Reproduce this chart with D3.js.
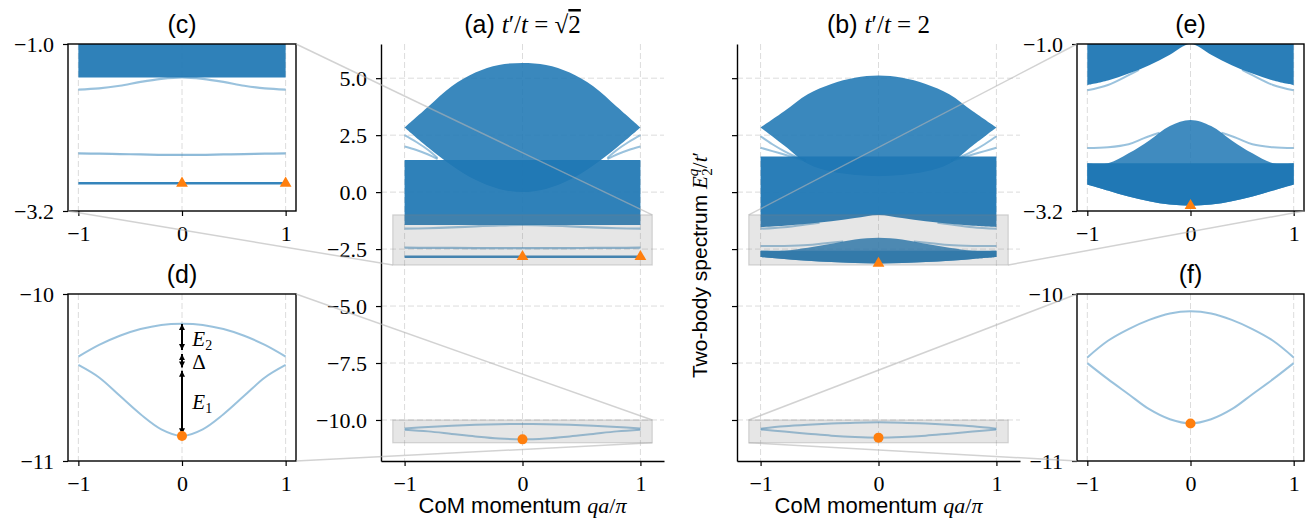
<!DOCTYPE html>
<html>
<head>
<meta charset="utf-8">
<script src="https://cdn.jsdelivr.net/npm/d3@7"></script>
<style>
  body { margin: 0; background: #fff; }
  svg { display: block; }
</style>
</head>
<body>
<script>
// ---------- data ----------
const qGrid = [-1, -0.8, -0.6, -0.4, -0.2, 0, 0.2, 0.4, 0.6, 0.8, 1];
const qTicks = [-1, 0, 1];
const mainTicks = [-10, -7.5, -5, -2.5, 0, 2.5, 5];

// (a) t'/t = sqrt(2)
const aDomeTop = [2.84, 3.75, 4.65, 5.25, 5.58, 5.67, 5.58, 5.25, 4.65, 3.75, 2.84];
const aDomeLow = [2.84, 1.96, 1.17, 0.54, 0.14, 0.00, 0.14, 0.54, 1.17, 1.96, 2.84];
const aBandTop = [1.41, 1.41, 1.41, 1.41, 1.41, 1.41, 1.41, 1.41, 1.41, 1.41, 1.41];
const aBandLow = [-1.44, -1.44, -1.44, -1.44, -1.44, -1.44, -1.44, -1.44, -1.44, -1.44, -1.44];
const aBound1 = [-1.60, -1.585, -1.55, -1.50, -1.46, -1.44, -1.46, -1.50, -1.55, -1.585, -1.60];
const aBound2 = [-2.44, -2.445, -2.45, -2.455, -2.46, -2.46, -2.46, -2.455, -2.45, -2.445, -2.44];
const aBound3 = [-2.835, -2.835, -2.835, -2.835, -2.835, -2.835, -2.835, -2.835, -2.835, -2.835, -2.835];
const aPairUp = [-10.375, -10.305, -10.25, -10.21, -10.185, -10.178, -10.185, -10.21, -10.25, -10.305, -10.375];
const aPairLow = [-10.425, -10.50, -10.61, -10.72, -10.81, -10.85, -10.81, -10.72, -10.61, -10.50, -10.425];
const aSideQL = [-1, -0.9, -0.8, -0.72];
const aSideQR = [1, 0.9, 0.8, 0.72];
const aSide1 = [2.50, 2.20, 1.85, 1.50];
const aSide2 = [2.00, 1.85, 1.65, 1.45];
const aTriQ = [0, 1], aTriE = [-2.835, -2.835];
const aDotQ = [0], aDotE = [-10.85];

// (b) t'/t = 2
const bDomeTop = [2.84, 3.55, 4.30, 4.75, 5.02, 5.12, 5.02, 4.75, 4.30, 3.55, 2.84];
const bDomeLow = [2.84, 2.05, 1.25, 0.90, 0.75, 0.70, 0.75, 0.90, 1.25, 2.05, 2.84];
const bBandTop = [1.56, 1.56, 1.56, 1.56, 1.56, 1.56, 1.56, 1.56, 1.56, 1.56, 1.56];
const bBandLow = [-1.54, -1.48, -1.39, -1.28, -1.14, -1.00, -1.14, -1.28, -1.39, -1.48, -1.54];
const bSideQL = [-1, -0.9, -0.8, -0.7, -0.62];
const bSideQR = [1, 0.9, 0.8, 0.7, 0.62];
const bSide1 = [2.45, 2.10, 1.80, 1.55, 1.40];
const bSide2 = [1.95, 1.80, 1.65, 1.50, 1.38];
const bEdgeQL = [-1, -0.8, -0.6, -0.5];
const bEdgeQR = [1, 0.8, 0.6, 0.5];
const bEdge = [-1.61, -1.54, -1.41, -1.34];
const bLowTop = [-2.57, -2.57, -2.44, -2.27, -2.08, -2.00, -2.08, -2.27, -2.44, -2.57, -2.57];
const bLowFlat = [-2.57, -2.57, -2.57, -2.57, -2.57, -2.57, -2.57, -2.57, -2.57, -2.57, -2.57];
const bLowBot = [-2.85, -2.93, -3.01, -3.07, -3.115, -3.13, -3.115, -3.07, -3.01, -2.93, -2.85];
const bMidQL = [-1, -0.8, -0.6, -0.45, -0.3];
const bMidQR = [1, 0.8, 0.6, 0.45, 0.3];
const bMid = [-2.37, -2.36, -2.32, -2.24, -2.17];
const bPairUp = [-10.38, -10.28, -10.21, -10.155, -10.117, -10.104, -10.117, -10.155, -10.21, -10.28, -10.38];
const bPairLow = [-10.414, -10.51, -10.60, -10.69, -10.75, -10.775, -10.75, -10.69, -10.60, -10.51, -10.414];
const bTriQ = [0], bTriE = [-3.13];
const bDotQ = [0], bDotE = [-10.775];

// (d) annotation arrows
const arrowTop = [-10.18, -10.36, -10.46];
const arrowBot = [-10.335, -10.44, -10.84];
const arrowLabel = ["E", "\u0394", "E"];
const arrowSub = ["2", "", "1"];
const arrowLabelE = [-10.27, -10.405, -10.645];

// ---------- drawing ----------
const width = 1307, height = 518;
const blue = "#1f77b4", orange = "#ff7f0e";
const serif = "'Liberation Serif', serif", sans = "'Liberation Sans', Arial, sans-serif";

const svg = d3.select("body").append("svg").attr("width", width).attr("height", height);
const defs = svg.append("defs");
defs.append("marker").attr("id", "arr").attr("viewBox", "0 0 10 10")
  .attr("refX", 10).attr("refY", 5).attr("markerWidth", 3).attr("markerHeight", 3)
  .attr("orient", "auto-start-reverse")
  .append("path").attr("d", "M0,0L10,5L0,10z").attr("fill", "#000");

function panel(id, xr, yr, xd, yd) {
  const x = d3.scaleLinear().domain(xd).range(xr);
  const y = d3.scaleLinear().domain(yd).range([yr[1], yr[0]]);
  const g = svg.append("g");
  defs.append("clipPath").attr("id", "clip-" + id).append("rect")
    .attr("x", xr[0]).attr("y", yr[0]).attr("width", xr[1] - xr[0]).attr("height", yr[1] - yr[0]);
  const grid = g.append("g");
  const plot = g.append("g").attr("clip-path", `url(#clip-${id})`);
  return { x, y, g, grid, plot, xr, yr };
}

function area(P, qs, lo, hi, op) {
  const data = qs.map((q, i) => ({ q, lo: lo[i], hi: hi[i] }));
  P.plot.append("path").datum(data)
    .attr("d", d3.area().x(d => P.x(d.q)).y0(d => P.y(d.lo)).y1(d => P.y(d.hi)).curve(d3.curveCatmullRom))
    .attr("fill", blue).attr("fill-opacity", op);
}

function curve(P, qs, es, op, w) {
  const data = qs.map((q, i) => ({ q, e: es[i] }));
  P.plot.append("path").datum(data)
    .attr("d", d3.line().x(d => P.x(d.q)).y(d => P.y(d.e)).curve(d3.curveCatmullRom))
    .attr("fill", "none").attr("stroke", blue).attr("stroke-opacity", op).attr("stroke-width", w);
}

function axes(P, yTicks, yFmt, yLabels, box) {
  P.grid.selectAll(".gx").data(qTicks).join("line")
    .attr("x1", d => P.x(d)).attr("x2", d => P.x(d)).attr("y1", P.yr[0]).attr("y2", P.yr[1])
    .attr("stroke", "#dcdcdc").attr("stroke-width", 1).attr("stroke-dasharray", "6,3");
  if (!box) {
    P.grid.selectAll(".gy").data(yTicks).join("line")
      .attr("x1", P.xr[0]).attr("x2", P.xr[1]).attr("y1", d => P.y(d)).attr("y2", d => P.y(d))
      .attr("stroke", "#dcdcdc").attr("stroke-width", 1).attr("stroke-dasharray", "6,3");
  }
  const xa = P.g.append("g").attr("transform", `translate(0,${P.yr[1]})`)
    .call(d3.axisBottom(P.x).tickValues(qTicks).tickFormat(d3.format("d"))
      .tickSize(5).tickPadding(9).tickSizeOuter(0));
  const ya = P.g.append("g").attr("transform", `translate(${P.xr[0]},0)`)
    .call(d3.axisLeft(P.y).tickValues(yTicks).tickFormat(yLabels ? d3.format(yFmt) : () => "")
      .tickSize(5).tickPadding(9).tickSizeOuter(0));
  [xa, ya].forEach(a => {
    a.selectAll("text").style("font-family", serif).style("font-size", "22px").attr("fill", "#000");
    a.selectAll(".tick line").attr("stroke", "#000").attr("stroke-width", 1.2);
    a.select(".domain").attr("stroke", "#000").attr("stroke-width", 1.4);
  });
  if (box) {
    xa.select(".domain").remove();
    ya.select(".domain").remove();
    P.g.append("rect").attr("x", P.xr[0]).attr("y", P.yr[0])
      .attr("width", P.xr[1] - P.xr[0]).attr("height", P.yr[1] - P.yr[0])
      .attr("fill", "none").attr("stroke", "#000").attr("stroke-width", 1.4);
  }
}

function markers(P, triQ, triE, dotQ, dotE) {
  P.g.selectAll(null).data(triQ.map((q, i) => [q, triE[i]])).join("path")
    .attr("d", d3.symbol(d3.symbolTriangle, 60)())
    .attr("transform", d => `translate(${P.x(d[0])},${P.y(d[1])})`).attr("fill", orange);
  P.g.selectAll(null).data(dotQ.map((q, i) => [q, dotE[i]])).join("circle")
    .attr("cx", d => P.x(d[0])).attr("cy", d => P.y(d[1])).attr("r", 5).attr("fill", orange);
}

function specA(P) {
  area(P, qGrid, aDomeLow, aDomeTop, 0.88);
  area(P, qGrid, aBandLow, aBandTop, 0.93);
  curve(P, aSideQL, aSide1, 0.45, 2); curve(P, aSideQR, aSide1, 0.45, 2);
  curve(P, aSideQL, aSide2, 0.45, 2); curve(P, aSideQR, aSide2, 0.45, 2);
  curve(P, qGrid, aBound1, 0.45, 2.2);
  curve(P, qGrid, aBound2, 0.5, 2.2);
  curve(P, qGrid, aBound3, 0.9, 2.4);
  curve(P, qGrid, aPairUp, 0.45, 2);
  curve(P, qGrid, aPairLow, 0.45, 2);
}

function specB(P) {
  area(P, qGrid, bDomeLow, bDomeTop, 0.88);
  area(P, qGrid, bBandLow, bBandTop, 0.95);
  curve(P, bSideQL, bSide1, 0.45, 2); curve(P, bSideQR, bSide1, 0.45, 2);
  curve(P, bSideQL, bSide2, 0.45, 2); curve(P, bSideQR, bSide2, 0.45, 2);
  curve(P, bEdgeQL, bEdge, 0.45, 2); curve(P, bEdgeQR, bEdge, 0.45, 2);
  area(P, qGrid, bLowBot, bLowTop, 0.85);
  area(P, qGrid, bLowBot, bLowFlat, 0.95);
  curve(P, bMidQL, bMid, 0.45, 2); curve(P, bMidQR, bMid, 0.45, 2);
  curve(P, qGrid, bPairUp, 0.45, 2);
  curve(P, qGrid, bPairLow, 0.45, 2);
}

function insetRects(P) {
  [[-1, -3.2], [-10, -11]].forEach(r => {
    P.plot.append("rect")
      .attr("x", P.x(-1.1)).attr("y", P.y(r[0]))
      .attr("width", P.x(1.1) - P.x(-1.1)).attr("height", P.y(r[1]) - P.y(r[0]))
      .attr("fill", "#808080").attr("fill-opacity", 0.2)
      .attr("stroke", "#808080").attr("stroke-opacity", 0.3).attr("stroke-width", 1.2);
  });
}

// panels
const A = panel("a", [381, 664], [44, 461], [-1.2, 1.2], [-11.8, 6.5]);
const B = panel("b", [737, 1020], [44, 461], [-1.2, 1.2], [-11.8, 6.5]);
const C = panel("c", [68, 296], [44, 211], [-1.1, 1.1], [-3.2, -1.0]);
const D = panel("d", [68, 296], [294, 461], [-1.1, 1.1], [-11, -10]);
const E = panel("e", [1077, 1304], [44, 211], [-1.1, 1.1], [-3.2, -1.0]);
const F = panel("f", [1077, 1304], [294, 461], [-1.1, 1.1], [-11, -10]);

specA(A); specA(C); specA(D);
specB(B); specB(E); specB(F);
insetRects(A); insetRects(B);

axes(A, mainTicks, ".1f", true, false);
axes(B, mainTicks, ".1f", false, false);
axes(C, [-3.2, -1.0], ".1f", true, true);
axes(E, [-3.2, -1.0], ".1f", true, true);
axes(D, [-11, -10], "d", true, true);
axes(F, [-11, -10], "d", true, true);

// energy arrows in (d)
arrowTop.forEach((t, i) => {
  D.g.append("line").attr("x1", D.x(0)).attr("x2", D.x(0))
    .attr("y1", D.y(t)).attr("y2", D.y(arrowBot[i]))
    .attr("stroke", "#000").attr("stroke-width", 2)
    .attr("marker-start", "url(#arr)").attr("marker-end", "url(#arr)");
  const tx = D.g.append("text").attr("x", D.x(0.1)).attr("y", D.y(arrowLabelE[i])).attr("dy", "0.35em")
    .style("font-family", serif).style("font-size", "21px");
  tx.append("tspan").style("font-style", i === 1 ? "normal" : "italic").text(arrowLabel[i]);
  if (arrowSub[i]) tx.append("tspan").attr("dy", 4).style("font-size", "14px").text(arrowSub[i]);
});

markers(A, aTriQ, aTriE, aDotQ, aDotE);
markers(C, aTriQ, aTriE, [], []);
markers(D, [], [], aDotQ, aDotE);
markers(B, bTriQ, bTriE, bDotQ, bDotE);
markers(E, bTriQ, bTriE, [], []);
markers(F, [], [], bDotQ, bDotE);

// titles
function title(P, y) {
  return svg.append("text").attr("x", (P.xr[0] + P.xr[1]) / 2).attr("y", y)
    .attr("text-anchor", "middle").style("font-size", "25px").style("font-family", sans);
}
title(C, 33).text("(c)");
title(D, 283).text("(d)");
title(E, 33).text("(e)");
title(F, 283).text("(f)");
const ta = title(A, 33);
ta.append("tspan").text("(a) ");
ta.append("tspan").style("font-family", serif).style("font-style", "italic").text("t");
ta.append("tspan").style("font-family", serif).text("\u2032/");
ta.append("tspan").style("font-family", serif).style("font-style", "italic").text("t");
ta.append("tspan").style("font-family", serif).text(" = \u221A");
ta.append("tspan").style("font-family", serif).style("text-decoration", "overline").text("2");
const tb = title(B, 33);
tb.append("tspan").text("(b) ");
tb.append("tspan").style("font-family", serif).style("font-style", "italic").text("t");
tb.append("tspan").style("font-family", serif).text("\u2032/");
tb.append("tspan").style("font-family", serif).style("font-style", "italic").text("t");
tb.append("tspan").style("font-family", serif).text(" = 2");

// axis labels
[A, B].forEach(P => {
  const t = svg.append("text").attr("x", (P.xr[0] + P.xr[1]) / 2).attr("y", 513)
    .attr("text-anchor", "middle").style("font-family", sans).style("font-size", "22px");
  t.append("tspan").text("CoM momentum ");
  t.append("tspan").style("font-family", serif).style("font-style", "italic").text("qa");
  t.append("tspan").style("font-family", serif).text("/");
  t.append("tspan").style("font-family", serif).style("font-style", "italic").text("\u03C0");
});
const yl = svg.append("text").attr("transform", "translate(707,265) rotate(-90)")
  .attr("text-anchor", "middle").style("font-family", sans).style("font-size", "21px");
yl.append("tspan").text("Two-body spectrum ");
yl.append("tspan").style("font-family", serif).style("font-style", "italic").text("E");
yl.append("tspan").style("font-family", serif).style("font-style", "italic").style("font-size", "15px").attr("dy", -9).text("q");
yl.append("tspan").style("font-family", serif).style("font-size", "15px").attr("dx", -7).attr("dy", 14).text("2");
yl.append("tspan").style("font-family", serif).attr("dy", -5).text("/");
yl.append("tspan").style("font-family", serif).style("font-style", "italic").text("t");
yl.append("tspan").style("font-family", serif).text("\u2032");

// connector lines between insets and the boxes in (a), (b)
const links = [
  [C, 1.1, -1.0, A, 1.1, -1.0], [C, -1.1, -3.2, A, -1.1, -3.2],
  [D, 1.1, -10, A, 1.1, -10], [D, 1.1, -11, A, 1.1, -11],
  [E, -1.1, -1.0, B, -1.1, -1.0], [E, 1.1, -3.2, B, 1.1, -3.2],
  [F, -1.1, -10, B, -1.1, -10], [F, -1.1, -11, B, -1.1, -11]
];
svg.append("g").selectAll("line").data(links).join("line")
  .attr("x1", d => d[0].x(d[1])).attr("y1", d => d[0].y(d[2]))
  .attr("x2", d => d[3].x(d[4])).attr("y2", d => d[3].y(d[5]))
  .attr("stroke", "#b4b4b4").attr("stroke-opacity", 0.6).attr("stroke-width", 1.5);
</script>
</body>
</html>
